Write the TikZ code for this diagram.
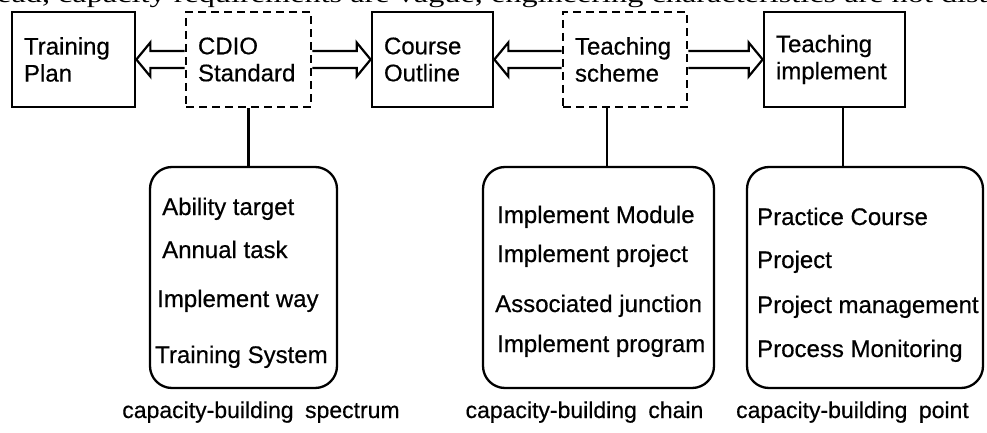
\documentclass[tikz,border=0pt]{standalone}
\usepackage{fontspec}
\setmainfont{Liberation Sans}[BoldFont=Liberation Sans, BoldFeatures={FakeBold=0.5}]
\newfontfamily\bodyserif{Liberation Serif}
\usetikzlibrary{calc}
\newcommand\blockarrow[3]{\draw[barrow] ($(#1)+(0,-8.5)$) -- ($(#2)+(#3*-14,-8.5)$) -- ($(#2)+(#3*-14,-17)$) -- (#2) -- ($(#2)+(#3*-14,17)$) -- ($(#2)+(#3*-14,8.5)$) -- ($(#1)+(0,8.5)$);}
\begin{document}
\begin{tikzpicture}[x=1pt,y=-1pt,
  box/.style={draw, line width=2.7pt, minimum height=95pt, inner xsep=12pt, inner ysep=0pt, align=left, font=\fontsize{24}{27}\selectfont\bfseries},
  dbox/.style={box, dash pattern=on 8pt off 5pt},
  rbox/.style={draw, line width=2.3pt, rounded corners=22pt, minimum height=221pt, inner sep=0pt},
  item/.style={anchor=base west, inner sep=0pt, font=\fontsize{24}{27}\selectfont\bfseries},
  captext/.style={anchor=base, inner sep=0pt, font=\fontsize{23}{27}\selectfont\bfseries},
  link/.style={line width=2.3pt},
  barrow/.style={line width=2.2pt, line join=miter}]
\useasboundingbox (0,0) rectangle (987,433);

% cut-off line of body text above the figure
\node[anchor=base west, inner sep=0pt, font=\bodyserif\fontsize{24}{28}\selectfont] (topline) at (-3,3) {\scalebox{1.345}[1]{ead, capacity requirements are vague, engineering characteristics are not disti}};

% top boxes
\node[box, text width=99pt] (tp) at (73.5,59.5) {Training\\Plan};
\node[dbox, text width=101pt] (cdio) at (248.5,59.5) {CDIO\\Standard};
\node[box, text width=97pt] (co) at (432.5,59.5) {Course\\Outline};
\node[dbox, text width=100pt] (ts) at (625,59.5) {Teaching\\scheme};
\node[box, text width=117pt] (ti) at (834.5,59.5) {Teaching\\implement};

% hollow block arrows
\blockarrow{cdio.west}{tp.east}{-1}
\blockarrow{cdio.east}{co.west}{1}
\blockarrow{ts.west}{co.east}{-1}
\blockarrow{ts.east}{ti.west}{1}

% rounded boxes
\node[rbox, minimum width=187pt] (rb1) at (243.5,277.5) {};
\node[rbox, minimum width=231pt] (rb2) at (598.5,277.5) {};
\node[rbox, minimum width=236pt] (rb3) at (865,277.5) {};

% vertical connectors
\coordinate (c1) at (cdio.south);
\coordinate (c2) at ($(ts.south)+(-18,0)$);
\coordinate (c3) at ($(ti.south)+(8.5,0)$);
\draw[link] (c1) -- (c1 |- rb1.north);
\draw[link] (c2) -- (c2 |- rb2.north);
\draw[link] (c3) -- (c3 |- rb3.north);

% items
\node[item] (a1) at (162,215) {Ability target};
\node[item] (a2) at (162,258) {Annual task};
\node[item] (a3) at (157,307) {Implement way};
\node[item] (a4) at (155,363) {Training System};

\node[item] (b1) at (497,223) {Implement Module};
\node[item] (b2) at (497,262) {Implement project};
\node[item] (b3) at (495,312) {Associated junction};
\node[item] (b4) at (497,352) {Implement program};

\node[item] (d1) at (757,225) {Practice Course};
\node[item] (d2) at (757,268) {Project};
\node[item] (d3) at (757,313) {Project management};
\node[item] (d4) at (757,357) {Process Monitoring};

% captions
\node[captext] (l1) at (261,418) {capacity-building\hspace{0.5em}spectrum};
\node[captext] (l2) at (584.5,418) {capacity-building\hspace{0.5em}chain};
\node[captext] (l3) at (852.5,418) {capacity-building\hspace{0.5em}point};
\end{tikzpicture}
\end{document}
